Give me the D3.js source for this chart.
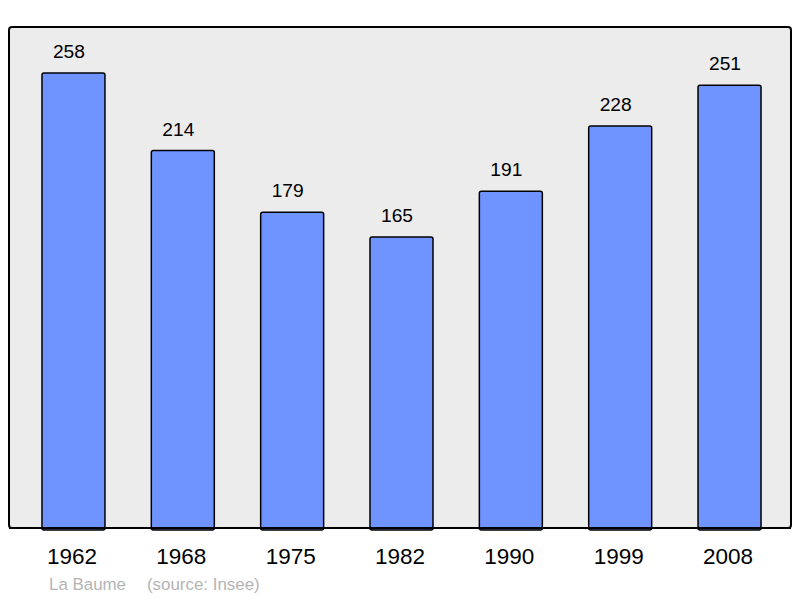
<!DOCTYPE html>
<html>
<head>
<meta charset="utf-8">
<script src="https://cdn.jsdelivr.net/npm/d3@7"></script>
<style>
  body { margin: 0; background: #fff; }
  text { font-family: "Liberation Sans", Arial, sans-serif; }
</style>
</head>
<body>
<div id="chart"></div>
<script>
var years = ["1962", "1968", "1975", "1982", "1990", "1999", "2008"];
var population = [258, 214, 179, 165, 191, 228, 251];
var commune = "La Baume";
var source = "(source: Insee)";

var width = 800, height = 598;
var svg = d3.select("#chart").append("svg")
    .attr("width", width)
    .attr("height", height);

// background panel
svg.append("rect")
    .attr("x", 9).attr("y", 27)
    .attr("width", 782).attr("height", 501)
    .attr("rx", 3)
    .attr("fill", "#ececec")
    .attr("stroke", "#000")
    .attr("stroke-width", 2);

var x = d3.scaleBand()
    .domain(years)
    .range([18.8, 784.2])
    .paddingInner(0.424)
    .paddingOuter(0.212);

var y = d3.scaleLinear()
    .domain([0, 258])
    .range([528, 73]);

svg.append("g").selectAll("rect")
    .data(population)
    .enter().append("rect")
      .attr("x", function(d, i) { return x(years[i]); })
      .attr("y", function(d) { return y(d); })
      .attr("width", x.bandwidth())
      .attr("height", function(d) { return y(0) - y(d) + 2; })
      .attr("rx", 2)
      .attr("fill", "#7094ff")
      .attr("stroke", "#000")
      .attr("stroke-width", 1.5);

// redraw bottom border over bar bottoms
svg.append("line")
    .attr("x1", 9).attr("x2", 791)
    .attr("y1", 528).attr("y2", 528)
    .attr("stroke", "#000")
    .attr("stroke-width", 2);

svg.append("g").selectAll("text")
    .data(population)
    .enter().append("text")
      .attr("x", function(d, i) { return x(years[i]) + x.bandwidth() / 2 - 4.5; })
      .attr("y", function(d) { return y(d) - 15; })
      .attr("text-anchor", "middle")
      .attr("font-size", 19.2)
      .attr("fill", "#000")
      .text(function(d) { return d; });

var xAxis = d3.axisBottom(x).tickSize(0).tickPadding(0);
var gx = svg.append("g")
    .attr("transform", "translate(-1.5,548.5)")
    .call(xAxis);
gx.select(".domain").remove();
gx.selectAll("text")
    .attr("font-size", 22.5)
    .attr("fill", "#000")
    .attr("dy", "0.71em")
    .style("font-family", "'Liberation Sans', Arial, sans-serif");

svg.append("text")
    .attr("x", 49).attr("y", 590)
    .attr("font-size", 16.9)
    .attr("fill", "#b4b4b4")
    .text(commune);
svg.append("text")
    .attr("x", 147).attr("y", 590)
    .attr("font-size", 16.9)
    .attr("fill", "#b4b4b4")
    .text(source);
</script>
</body>
</html>
